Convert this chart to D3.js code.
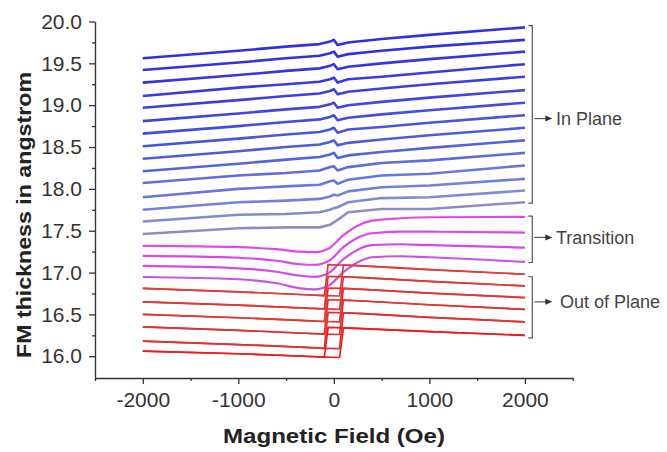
<!DOCTYPE html>
<html><head><meta charset="utf-8">
<script src="https://cdn.jsdelivr.net/npm/d3@7"></script>
<style>
body{margin:0;background:#fff}
svg{display:block}
text{font-family:"Liberation Sans",Arial,Helvetica,sans-serif}
</style>
</head><body>
<svg id="chart" width="667" height="452"></svg>
<script>
// ---------------- data ----------------
const inPlaneFields = [-2000,-1000,-500,-150,-40,0,40,150,500,1000,2000];
const inPlaneValues = [
  [19.56,19.65,19.70,19.73,19.76,19.78,19.72,19.75,19.79,19.84,19.93],
  [19.42,19.51,19.56,19.59,19.62,19.64,19.58,19.61,19.65,19.70,19.78],
  [19.27,19.36,19.41,19.44,19.47,19.49,19.43,19.46,19.50,19.55,19.64],
  [19.11,19.21,19.25,19.28,19.31,19.33,19.27,19.31,19.34,19.39,19.49],
  [18.97,19.06,19.11,19.14,19.17,19.19,19.13,19.16,19.20,19.25,19.34],
  [18.81,18.90,18.95,18.98,19.01,19.03,18.97,19.00,19.04,19.09,19.18],
  [18.66,18.75,18.80,18.83,18.86,18.88,18.82,18.85,18.89,18.94,19.03],
  [18.51,18.60,18.65,18.68,18.71,18.73,18.67,18.71,18.74,18.79,18.88],
  [18.36,18.45,18.50,18.53,18.56,18.58,18.52,18.55,18.59,18.64,18.73],
  [18.21,18.30,18.35,18.38,18.41,18.43,18.37,18.40,18.44,18.49,18.58],
  [18.07,18.16,18.19,18.22,18.26,18.27,18.22,18.26,18.31,18.34,18.43],
  [17.90,18.00,18.03,18.05,18.09,18.10,18.06,18.11,18.16,18.18,18.28],
  [17.75,17.84,17.86,17.88,17.91,17.93,17.92,17.97,18.02,18.04,18.12],
  [17.61,17.69,17.70,17.72,17.75,17.77,17.78,17.84,17.89,17.90,17.98],
  [17.46,17.53,17.54,17.54,17.57,17.60,17.63,17.72,17.76,17.76,17.84]
];
const transitionFields = [-2000,-1000,-600,-350,-200,-50,100,250,400,700,1000,2000];
const transitionValues = [
  [17.318,17.303,17.279,17.249,17.243,17.291,17.446,17.560,17.620,17.649,17.661,17.665],
  [17.199,17.177,17.141,17.099,17.093,17.141,17.303,17.416,17.470,17.488,17.488,17.478],
  [17.079,17.051,17.010,16.962,16.950,16.998,17.159,17.273,17.327,17.338,17.327,17.299],
  [16.947,16.920,16.872,16.812,16.800,16.848,17.004,17.123,17.183,17.195,17.183,17.127]
];
const outUpFields = [-2000,-1000,-300,-100,60,100,300,1000,2000];
const outUpValues = [
  [16.81,16.77,16.735,16.725,16.72,17.09,17.08,17.035,16.98],
  [16.65,16.61,16.575,16.565,16.56,16.95,16.94,16.895,16.84],
  [16.50,16.46,16.425,16.415,16.41,16.81,16.80,16.755,16.70],
  [16.35,16.31,16.275,16.265,16.26,16.67,16.66,16.615,16.56],
  [16.18,16.14,16.105,16.095,16.09,16.52,16.51,16.465,16.41],
  [16.06,16.03,16.00,15.99,15.985,16.34,16.33,16.295,16.25]
];
const outDownFields = [2000,1000,300,100,-60,-100,-300,-1000,-2000];
const outDownValues = [
  [16.98,17.035,17.08,17.09,17.095,16.725,16.735,16.77,16.81],
  [16.84,16.895,16.94,16.95,16.955,16.565,16.575,16.61,16.65],
  [16.70,16.755,16.80,16.81,16.815,16.415,16.425,16.46,16.50],
  [16.56,16.615,16.66,16.67,16.675,16.265,16.275,16.31,16.35],
  [16.41,16.465,16.51,16.52,16.525,16.095,16.105,16.14,16.18],
  [16.25,16.295,16.33,16.34,16.345,15.99,16.00,16.03,16.06]
];
const xTicks = [-2000,-1000,0,1000,2000];
const xMinorTicks = [-2500,-1500,-500,500,1500,2500];
const yTicks = [16.0,16.5,17.0,17.5,18.0,18.5,19.0,19.5,20.0];
const yMinorTicks = [16.25,16.75,17.25,17.75,18.25,18.75,19.25,19.75];
const groupLabels = ["In Plane","Transition","Out of Plane"];
const groupTop = [19.95,17.675,16.95];
const groupBottom = [17.83,17.12,16.22];
const groupArrow = [18.84,17.42,16.65];
const xTitle = "Magnetic Field (Oe)";
const yTitle = "FM thickness in angstrom";

// ---------------- styles ----------------
const blueColors = ["#1e1ee0","#2020e0","#2424df","#2828df","#2c2ede","#3034de","#343cdd","#3a44dd","#404cdc","#4856dc","#5060db","#5a6ada","#6676d8","#7282d0","#8482c0"];
const magentaColors = ["#e03ee8","#dc3ce8","#d43ee6","#c84ae0"];
const redColors = ["#e23c3c","#e03838","#e23636","#e03434","#e43030","#f01c1c"];

// ---------------- chart ----------------
const svg = d3.select("#chart");
const x = d3.scaleLinear().domain([-2500,2500]).range([95,572.7]);
const y = d3.scaleLinear().domain([15.74,20]).range([378,21.5]);

const lineSmooth = d3.line().x(d=>x(d[0])).y(d=>y(d[1])).curve(d3.curveMonotoneX);
const lineStraight = d3.line().x(d=>x(d[0])).y(d=>y(d[1]));

const plot = svg.append("g");
inPlaneValues.forEach((vals,i)=>{
  plot.append("path")
    .attr("d", lineStraight(inPlaneFields.map((f,j)=>[f,vals[j]])))
    .attr("fill","none").attr("stroke",blueColors[i])
    .attr("stroke-width",2.6).attr("stroke-linejoin","round").attr("stroke-opacity",0.92);
});
transitionValues.forEach((vals,i)=>{
  plot.append("path")
    .attr("d", lineSmooth(transitionFields.map((f,j)=>[f,vals[j]])))
    .attr("fill","none").attr("stroke",magentaColors[i])
    .attr("stroke-width",2.2).attr("stroke-opacity",0.95);
});
outUpValues.forEach((vals,i)=>{
  plot.append("path")
    .attr("d", lineStraight(outUpFields.map((f,j)=>[f,vals[j]])))
    .attr("fill","none").attr("stroke",redColors[i])
    .attr("stroke-width",1.7).attr("stroke-linejoin","round");
  plot.append("path")
    .attr("d", lineStraight(outDownFields.map((f,j)=>[f,outDownValues[i][j]])))
    .attr("fill","none").attr("stroke",redColors[i])
    .attr("stroke-width",1.7).attr("stroke-linejoin","round");
});

// axes
const axisColor = "#333";
svg.append("g").attr("transform","translate(95,0)")
  .call(d3.axisLeft(y).tickValues(yTicks).tickSize(6).tickSizeOuter(0).tickPadding(7).tickFormat(d=>d.toFixed(1)));
svg.append("g").attr("transform","translate(95,0)")
  .call(d3.axisLeft(y).tickValues(yMinorTicks).tickSize(3).tickSizeOuter(0).tickFormat(""))
  .select(".domain").remove();
svg.append("g").attr("transform","translate(0,378)")
  .call(d3.axisBottom(x).tickValues(xTicks).tickSize(6).tickSizeOuter(0).tickPadding(8).tickFormat(d=>String(d)));
svg.append("g").attr("transform","translate(0,378)")
  .call(d3.axisBottom(x).tickValues(xMinorTicks).tickSize(3).tickSizeOuter(0).tickFormat(""))
  .select(".domain").remove();
svg.selectAll(".domain").attr("stroke",axisColor).attr("stroke-width",1.4);
svg.selectAll(".tick line").attr("stroke",axisColor).attr("stroke-width",1.3);
svg.selectAll(".tick text").attr("fill","#333").attr("font-size",21)
  .attr("font-family","'Liberation Sans',Arial,sans-serif");

// titles
svg.append("text").attr("x",334).attr("y",443).attr("text-anchor","middle")
  .attr("font-size",21).attr("font-weight","bold").attr("fill","#222")
  .attr("textLength",222).attr("lengthAdjust","spacingAndGlyphs").text(xTitle);
svg.append("text").attr("transform","translate(31,215) rotate(-90)").attr("text-anchor","middle")
  .attr("font-size",21).attr("font-weight","bold").attr("fill","#222")
  .attr("textLength",286).attr("lengthAdjust","spacingAndGlyphs").text(yTitle);

// group brackets
const bx = 532.3;
const br = svg.append("g").attr("stroke","#555").attr("stroke-width",1.2).attr("fill","none");
groupLabels.forEach((lab,i)=>{
  const t = y(groupTop[i]), b = y(groupBottom[i]), a = y(groupArrow[i]);
  br.append("path").attr("d",`M${bx-4},${t}H${bx}V${b}H${bx-4}`);
  br.append("line").attr("x1",bx+2).attr("x2",bx+14).attr("y1",a).attr("y2",a);
  svg.append("path").attr("d",`M${bx+20},${a}l-7,-3v6z`).attr("fill","#333");
  svg.append("text").attr("x", i===2 ? 560 : 556).attr("y",a + (i===1?7:6)).attr("font-size",18)
    .attr("fill","#444").text(lab);
});
</script>
</body></html>
